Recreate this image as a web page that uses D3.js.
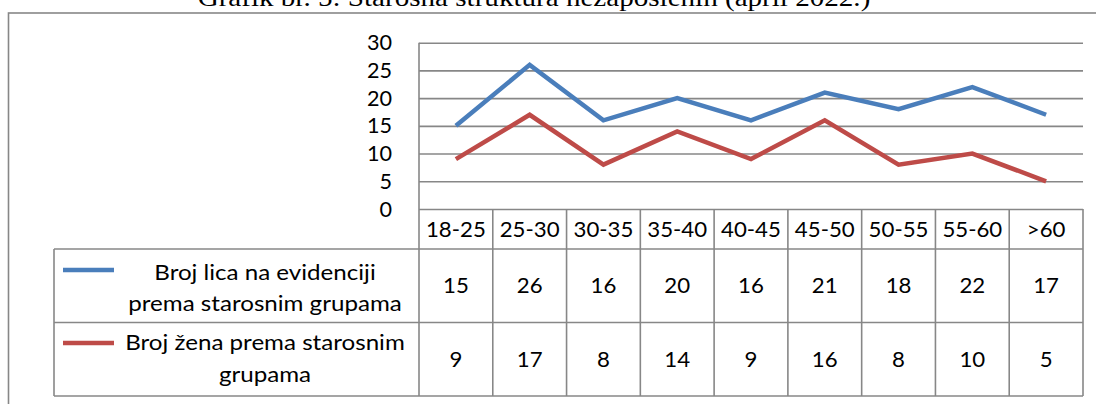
<!DOCTYPE html>
<html>
<head>
<meta charset="utf-8">
<script src="https://cdn.jsdelivr.net/npm/d3@7/dist/d3.min.js"></script>
<style>
  html, body { margin: 0; padding: 0; background: #fff; }
  svg { display: block; }
</style>
</head>
<body>
<svg id="chart" width="1096" height="404"></svg>
<script>
const titleText = "Grafik br. 5: Starosna struktura nezaposlenih (april 2022.)";
const categories = ["18-25", "25-30", "30-35", "35-40", "40-45", "45-50", "50-55", "55-60", ">60"];
const totalValues = [15, 26, 16, 20, 16, 21, 18, 22, 17];
const womenValues = [9, 17, 8, 14, 9, 16, 8, 10, 5];
const seriesLabels = [
  ["Broj lica na evidenciji", "prema starosnim grupama"],
  ["Broj žena prema starosnim", "grupama"]
];
const seriesColors = ["#4A7EBB", "#BE4B48"];
const yTicks = [0, 5, 10, 15, 20, 25, 30];

const svg = d3.select("#chart");
const grey = "#878787";
const font = "Lato, 'Open Sans', sans-serif";

// layout
const plotL = 419, plotR = 1083, plotT = 42.7, plotB = 209;
const rowB = [209, 249, 322.5, 396];
const legL = 54;

const x = d3.scaleBand().domain(categories).range([plotL, plotR]);
const y = d3.scaleLinear().domain([0, 30]).range([plotB, plotT]);

// helper: text stretched horizontally about its anchor point
function addText(parent, tx, ty, str, opts) {
  const g = parent.append("g").attr("transform", `translate(${tx},${ty}) scale(${opts.sx || 1},1)`);
  return g.append("text")
    .attr("text-anchor", opts.anchor || "middle")
    .attr("dy", opts.dy || null)
    .style("font-family", opts.family || font)
    .style("font-size", (opts.size || 21) + "px")
    .attr("fill", "#000")
    .text(str);
}

// outer frame
svg.append("rect").attr("x", 8.5).attr("y", 13).attr("width", 1200).attr("height", 500)
  .attr("fill", "none").attr("stroke", grey).attr("stroke-width", 1.6);

// title (stretched to the reference span)
const tTitle = addText(svg, 534, 6, titleText, { family: "'Liberation Serif', 'Times New Roman', serif", size: 25 });
const tw = tTitle.node().getComputedTextLength();
d3.select(tTitle.node().parentNode).attr("transform", `translate(534,6) scale(${673 / tw},1)`);

// gridlines
const gAxis = svg.append("g").attr("transform", `translate(${plotL},0)`)
  .call(d3.axisLeft(y).tickValues(yTicks).tickSize(-(plotR - plotL)).tickFormat(""));
gAxis.select(".domain").remove();
gAxis.selectAll(".tick line").attr("stroke", grey).attr("stroke-width", 1.6);

// y labels
const gy = svg.append("g");
yTicks.forEach(d => addText(gy, 392, y(d), d, { anchor: "end", dy: "0.36em", sx: 1.03 }));

// left vertical axis line through table
svg.append("line").attr("x1", plotL).attr("x2", plotL).attr("y1", plotT).attr("y2", rowB[3])
  .attr("stroke", grey).attr("stroke-width", 1.6);

// table vertical lines
svg.append("g").selectAll("line").data(categories).join("line")
  .attr("x1", d => x(d) + x.bandwidth()).attr("x2", d => x(d) + x.bandwidth())
  .attr("y1", rowB[0]).attr("y2", rowB[3])
  .attr("stroke", grey).attr("stroke-width", 1.6);
// legend column left border
svg.append("line").attr("x1", legL).attr("x2", legL).attr("y1", rowB[1]).attr("y2", rowB[3])
  .attr("stroke", grey).attr("stroke-width", 1.6);
// table horizontal lines
svg.append("g").selectAll("line").data(rowB.slice(1)).join("line")
  .attr("x1", legL).attr("x2", plotR).attr("y1", d => d).attr("y2", d => d)
  .attr("stroke", grey).attr("stroke-width", 1.6);

// header labels
const gh = svg.append("g");
categories.forEach(c => addText(gh, x(c) + x.bandwidth() / 2, (rowB[0] + rowB[1]) / 2, c, { dy: "0.36em", sx: 1.06 }));

// values in table
const allSeries = [totalValues, womenValues];
allSeries.forEach((vals, i) => {
  const cy = (rowB[i + 1] + rowB[i + 2]) / 2;
  const gv = svg.append("g");
  vals.forEach((v, j) => addText(gv, x(categories[j]) + x.bandwidth() / 2, cy, v, { dy: "0.36em", sx: 1.06 }));
});

// legend keys and labels
const legendLayout = [
  { keyY: 270, lines: [280, 311] },
  { keyY: 343, lines: [350, 381.5] }
];
seriesLabels.forEach((lines, i) => {
  svg.append("line").attr("x1", 63).attr("x2", 114)
    .attr("y1", legendLayout[i].keyY).attr("y2", legendLayout[i].keyY)
    .attr("stroke", seriesColors[i]).attr("stroke-width", 4.5);
  lines.forEach((t, k) => addText(svg, 265, legendLayout[i].lines[k], t, { sx: 1.15 }));
});

// series lines
const line = d3.line()
  .x((d, j) => x(categories[j]) + x.bandwidth() / 2)
  .y(d => y(d));
allSeries.forEach((vals, i) => {
  svg.append("path").datum(vals).attr("d", line)
    .attr("fill", "none").attr("stroke", seriesColors[i]).attr("stroke-width", 4.5)
    .attr("stroke-linejoin", "miter");
});
</script>
</body>
</html>
